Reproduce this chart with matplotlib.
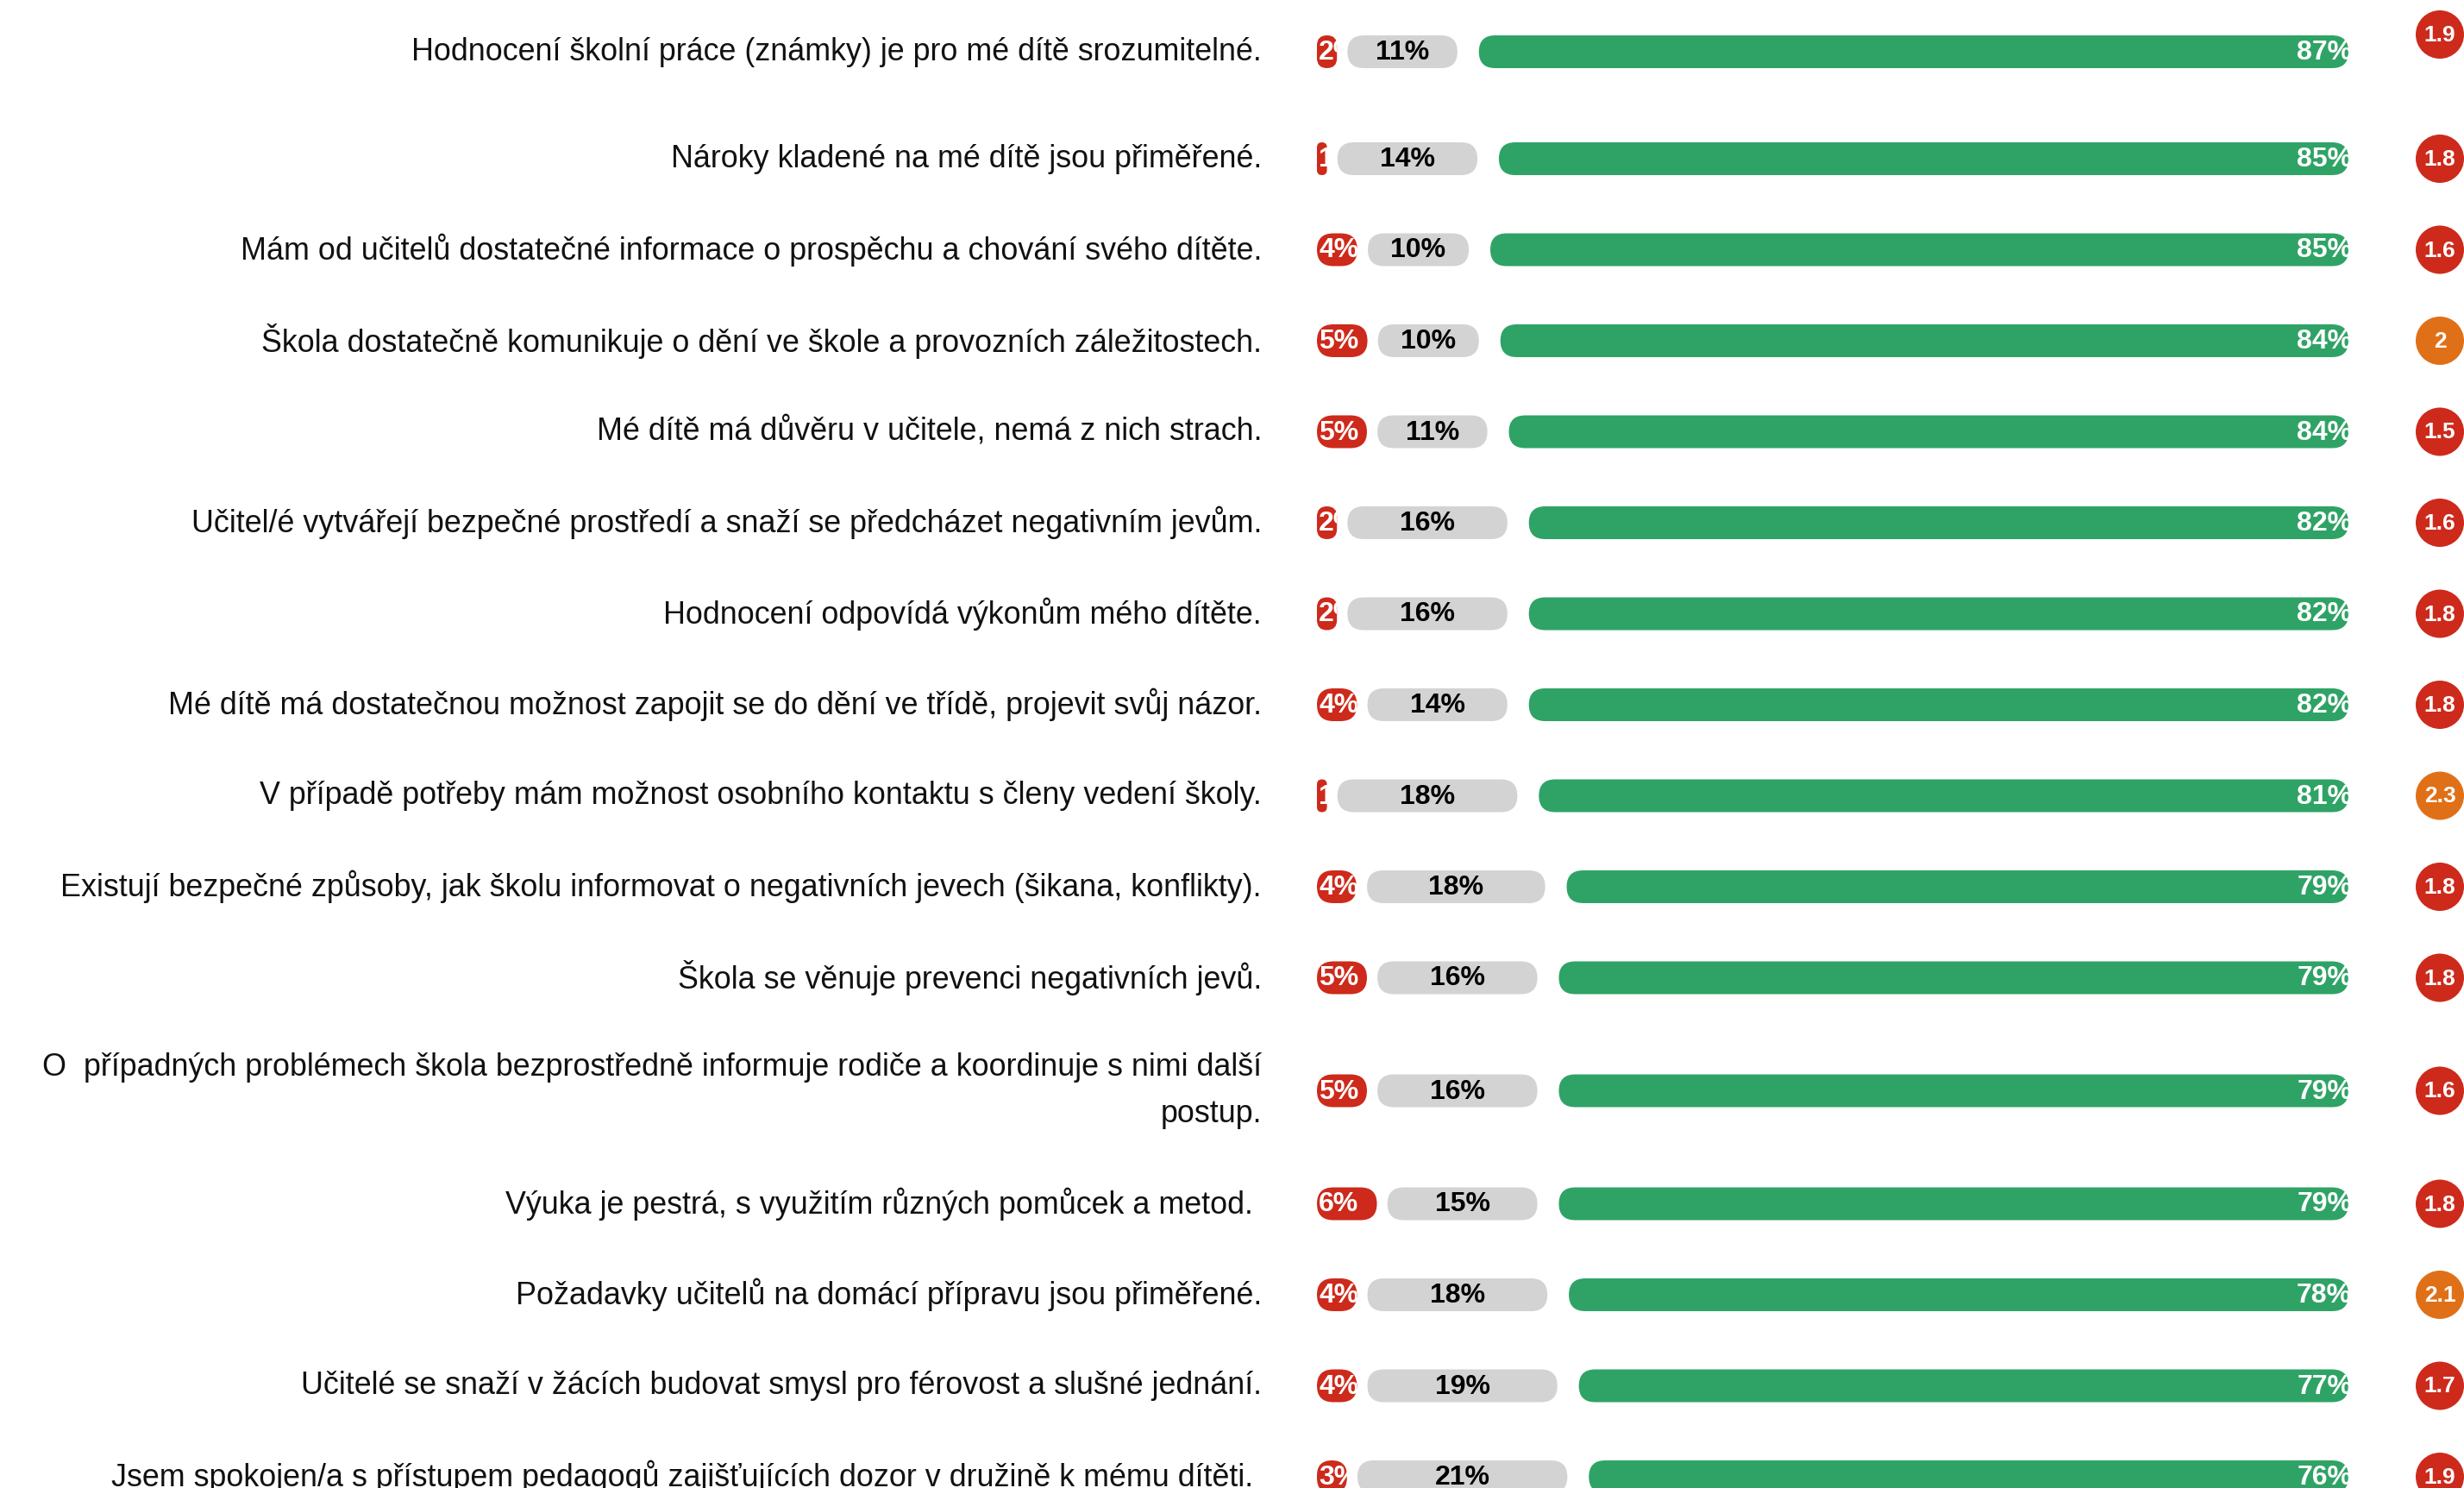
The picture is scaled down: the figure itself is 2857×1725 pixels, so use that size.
import matplotlib.pyplot as plt
from matplotlib.patches import FancyBboxPatch, Ellipse
from matplotlib.transforms import Bbox, TransformedBbox

plt.rcParams['font.family'] = ['Liberation Sans', 'DejaVu Sans']

statements = [
    "Hodnocení školní práce (známky) je pro mé dítě srozumitelné.",
    "Nároky kladené na mé dítě jsou přiměřené.",
    "Mám od učitelů dostatečné informace o prospěchu a chování svého dítěte.",
    "Škola dostatečně komunikuje o dění ve škole a provozních záležitostech.",
    "Mé dítě má důvěru v učitele, nemá z nich strach.",
    "Učitel/é vytvářejí bezpečné prostředí a snaží se předcházet negativním jevům.",
    "Hodnocení odpovídá výkonům mého dítěte.",
    "Mé dítě má dostatečnou možnost zapojit se do dění ve třídě, projevit svůj názor.",
    "V případě potřeby mám možnost osobního kontaktu s členy vedení školy.",
    "Existují bezpečné způsoby, jak školu informovat o negativních jevech (šikana, konflikty).",
    "Škola se věnuje prevenci negativních jevů.",
    "O  případných problémech škola bezprostředně informuje rodiče a koordinuje s nimi další\npostup.",
    "Výuka je pestrá, s využitím různých pomůcek a metod. ",
    "Požadavky učitelů na domácí přípravu jsou přiměřené.",
    "Učitelé se snaží v žácích budovat smysl pro férovost a slušné jednání.",
    "Jsem spokojen/a s přístupem pedagogů zajišťujících dozor v družině k mému dítěti. ",
]
negative = [2, 1, 4, 5, 5, 2, 2, 4, 1, 4, 5, 5, 6, 4, 4, 3]
neutral = [11, 14, 10, 10, 11, 16, 16, 14, 18, 18, 16, 16, 15, 18, 19, 21]
positive = [87, 85, 85, 84, 84, 82, 82, 82, 81, 79, 79, 79, 79, 78, 77, 76]
scores = [1.9, 1.8, 1.6, 2, 1.5, 1.6, 1.8, 1.8, 2.3, 1.8, 1.8, 1.6, 1.8, 2.1, 1.7, 1.9]

GREEN = '#2FA366'
GREY = '#D3D3D3'
RED = '#CD2A1C'
ORANGE = '#E07018'

W, H = 2857, 1725
fig = plt.figure(figsize=(W / 100, H / 100), dpi=100)
ax = fig.add_axes([0, 0, 1, 1])
ax.axis('off')

# x axis in percent, y axis in pixels from the top
px_per_pct = 11.59
x0_px = 1527
ax.set_xlim(-x0_px / px_per_pct, (W - x0_px) / px_per_pct)
ax.set_ylim(H, 0)

bar_h = 38
gap1, gap2 = 1.05, 2.15
label_x = -(x0_px - 1463) / px_per_pct
badge_x = (2829 - x0_px) / px_per_pct
badge_d = 56
row_pitch = 105.5
line_h = 51

# row centres
ys = []
y = 60
for i, lab in enumerate(statements):
    if i > 0:
        y += row_pitch + 0.5 * line_h * (lab.count('\n') + statements[i - 1].count('\n'))
        if i == 1:
            y += 18.5
    ys.append(y)


def pill(x, yc, w, color):
    r = min(w, bar_h / px_per_pct) / 2
    p = FancyBboxPatch((x, yc - bar_h / 2), w, bar_h,
                       boxstyle=f"round,pad=0,rounding_size={r}",
                       mutation_aspect=px_per_pct, fc=color, ec='none')
    ax.add_patch(p)
    return Bbox.from_bounds(x, yc - bar_h / 2, w, bar_h)


def pill_text(x, yc, s, box, **kw):
    t = ax.text(x, yc + 1, s, va='center', fontsize=23, fontweight='bold', **kw)
    t.set_clip_box(TransformedBbox(box, ax.transData))
    t.set_clip_on(True)


for i, lab in enumerate(statements):
    yc = ys[i]
    tot = negative[i] + neutral[i] + positive[i]
    r = negative[i] * 100 / tot
    n = neutral[i] * 100 / tot
    g = positive[i] * 100 / tot

    ax.text(label_x, yc, lab, ha='right', va='center', fontsize=25.8,
            color='#111111', multialignment='right', linespacing=1.7)

    box = pill(0, yc, r, RED)
    pill_text(0.2, yc, f"{negative[i]}%", box, ha='left', color='white')

    xn = r + gap1
    box = pill(xn, yc, n, GREY)
    pill_text(xn + n / 2, yc, f"{neutral[i]}%", box, ha='center', color='black')

    xg = xn + n + gap2
    box = pill(xg, yc, g, GREEN)
    pill_text(xg + g + 0.35, yc, f"{positive[i]}%", box, ha='right', color='white')

    by = yc - 20 if i == 0 else yc
    col = ORANGE if scores[i] >= 2 else RED
    ax.add_patch(Ellipse((badge_x, by), badge_d / px_per_pct, badge_d,
                         fc=col, ec='none'))
    ax.text(badge_x, by + 1, f"{scores[i]:g}", ha='center', va='center',
            fontsize=19, fontweight='bold', color='white')

fig.savefig("out.png", dpi=100)
